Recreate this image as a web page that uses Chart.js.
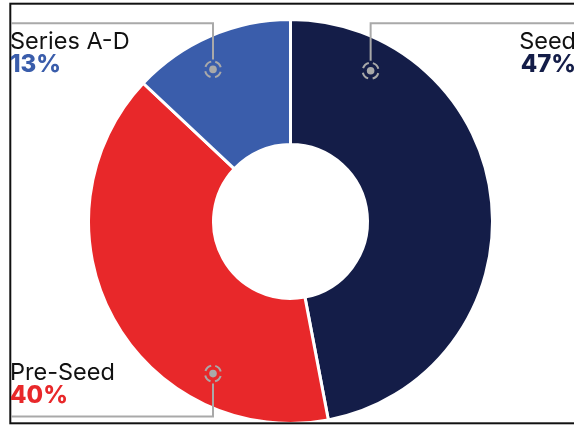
<!DOCTYPE html>
<html>
<head>
<meta charset="utf-8">
<script src="https://cdn.jsdelivr.net/npm/chart.js@4/dist/chart.umd.min.js"></script>
<style>
  html, body { margin: 0; padding: 0; background: #fff; }
  #wrap { width: 574px; height: 425px; position: relative; }
</style>
</head>
<body>
<div id="wrap"><canvas id="chart"></canvas></div>
<script>
// funding stage split
const stages = ["Seed", "Pre-Seed", "Series A-D"];
const shares = [47, 40, 13];
const sliceColors = ["#141d48", "#e8282a", "#3a5dab"];

// where each callout sits: angle from 12 o'clock (deg), and which side the label goes
const calloutAngles = [28, 207, 333];
const calloutSides = ["top-right", "bottom-left", "top-left"];

const FONT = "Inter, 'Noto Sans', sans-serif";
const LEADER = "#a9a9a9";

function drawMarker(ctx, x, y) {
  ctx.save();
  ctx.fillStyle = LEADER;
  ctx.beginPath();
  ctx.arc(x, y, 3.8, 0, Math.PI * 2);
  ctx.fill();
  ctx.strokeStyle = LEADER;
  ctx.lineWidth = 2;
  ctx.setLineDash([8, 4.6]);
  ctx.lineDashOffset = -2.3;
  ctx.beginPath();
  ctx.arc(x, y, 8, -Math.PI / 2, Math.PI * 1.5);
  ctx.stroke();
  ctx.restore();
}

const callouts = {
  id: "callouts",
  beforeDraw(chart) {
    const ctx = chart.ctx;
    ctx.save();
    ctx.fillStyle = "#fff";
    ctx.fillRect(0, 0, chart.width, chart.height);
    ctx.restore();
  },
  afterDraw(chart) {
    const ctx = chart.ctx;
    const arcs = chart.getDatasetMeta(0).data;
    const total = shares.reduce((a, b) => a + b, 0);

    // outer frame
    ctx.save();
    ctx.strokeStyle = "#111";
    ctx.lineWidth = 2;
    ctx.strokeRect(10.3, 3.7, 620, 419.6);
    ctx.restore();

    const topY = 23.3, bottomY = 416.5, leftX = 11, rightX = chart.width + 2;

    arcs.forEach((arc, i) => {
      const { x, y, outerRadius } = arc.getProps(["x", "y", "outerRadius"], true);
      const a = calloutAngles[i] * Math.PI / 180;
      const r = outerRadius * 0.845;
      const mx = x + Math.sin(a) * r;
      const my = y - Math.cos(a) * r;
      const side = calloutSides[i];
      const pct = Math.round(shares[i] / total * 100) + "%";

      ctx.save();
      ctx.strokeStyle = LEADER;
      ctx.lineWidth = 2;
      ctx.beginPath();
      if (side.startsWith("top")) {
        ctx.moveTo(mx, my - 10);
        ctx.lineTo(mx, topY);
        ctx.lineTo(side.endsWith("left") ? leftX : rightX, topY);
      } else {
        ctx.moveTo(mx, my + 10);
        ctx.lineTo(mx, bottomY);
        ctx.lineTo(side.endsWith("left") ? leftX : rightX, bottomY);
      }
      ctx.stroke();
      ctx.restore();

      drawMarker(ctx, mx, my);

      // label text
      const left = side.endsWith("left");
      const tx = left ? 10 : 576;
      const nameY = side.startsWith("top") ? 49 : 379.5;
      ctx.save();
      ctx.textAlign = left ? "left" : "right";
      ctx.textBaseline = "alphabetic";
      ctx.fillStyle = "#111";
      ctx.font = "400 23.5px " + FONT;
      ctx.fillText(stages[i], tx, nameY);
      ctx.fillStyle = sliceColors[i];
      ctx.font = "800 24px " + FONT;
      ctx.fillText(pct, tx, nameY + 23);
      ctx.restore();
    });
  }
};

new Chart(document.getElementById("chart"), {
  type: "doughnut",
  data: {
    labels: stages,
    datasets: [{
      data: shares,
      backgroundColor: sliceColors,
      borderColor: "#fff",
      borderWidth: 3,
      hoverOffset: 0
    }]
  },
  options: {
    responsive: true,
    maintainAspectRatio: false,
    animation: false,
    cutout: 77,
    layout: { padding: { top: 18, bottom: 0, left: 87, right: 80 } },
    plugins: {
      legend: { display: false },
      tooltip: { enabled: false }
    }
  },
  plugins: [callouts]
});
</script>
</body>
</html>
